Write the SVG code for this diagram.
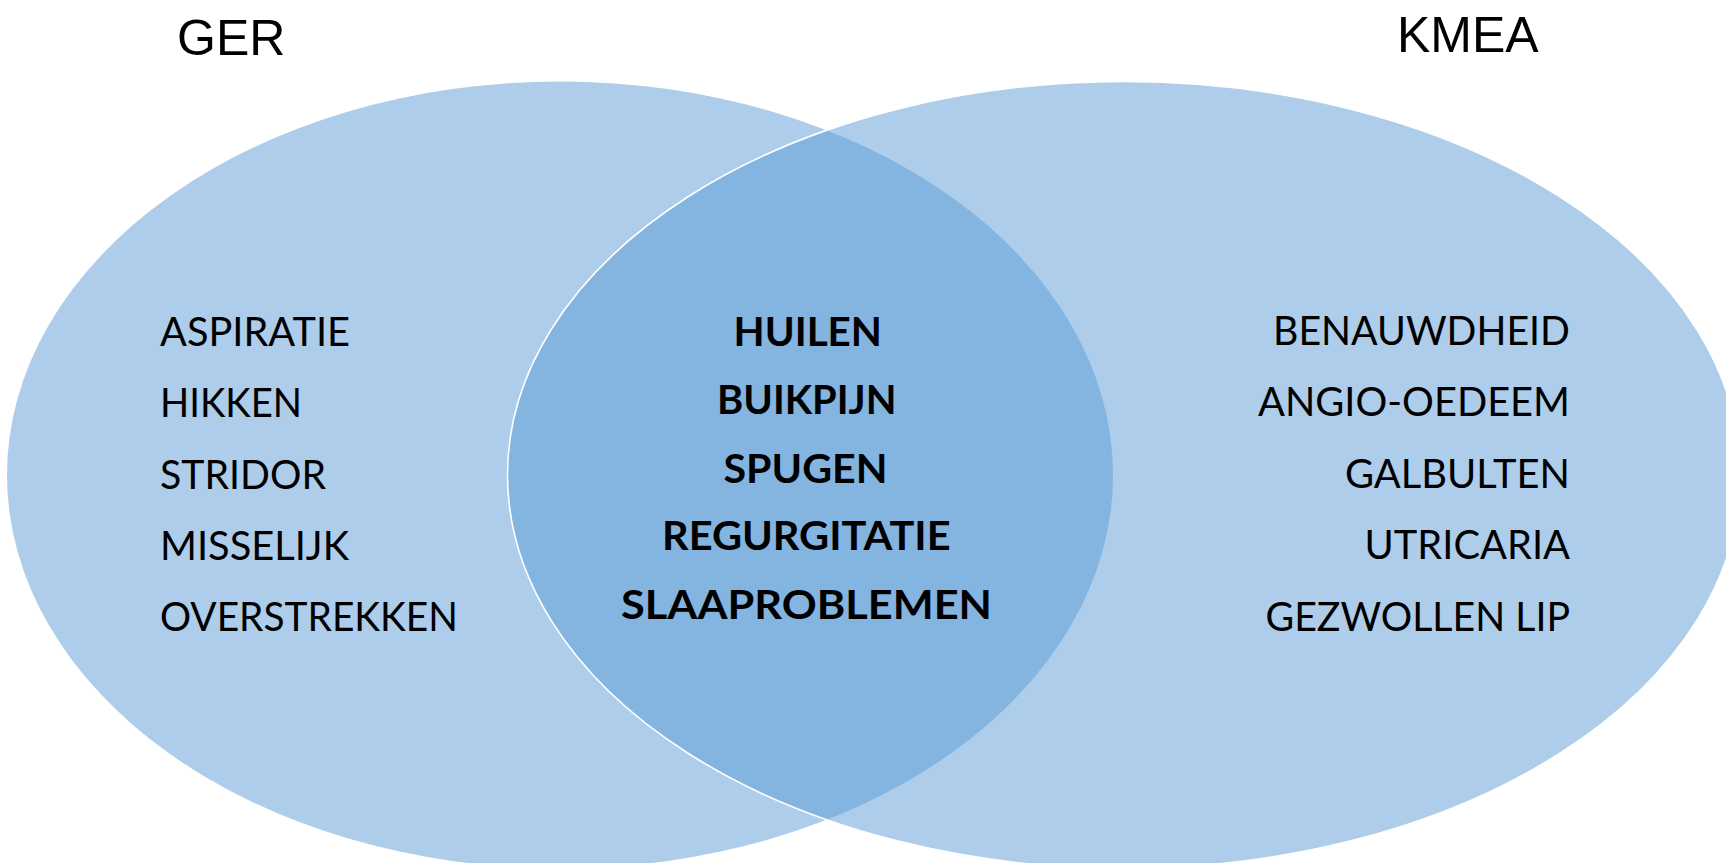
<svg xmlns="http://www.w3.org/2000/svg" width="1726" height="863" viewBox="0 0 1726 863">
<style>
.set{fill:#5B9BD5;fill-opacity:0.5}
.title{font-family:"Liberation Sans",Arial,sans-serif;font-size:50px;fill:#000}
.item{font-family:Lato,"Open Sans",sans-serif;font-size:41px;fill:#000}
.bold{font-weight:bold}
</style>
<rect width="1726" height="863" fill="#FFFFFF"/>
<g id="set-ger">
<ellipse class="set" cx="560" cy="475" rx="553" ry="393.5"/>
</g>
<g id="set-kmea">
<ellipse class="set" cx="1124" cy="475" rx="616.5" ry="393.5" stroke="#FFFFFF" stroke-width="1.6"/>
</g>
<g id="connectors"/>
<g id="label-ger">
<text class="title" x="177" y="55">GER</text>
</g>
<g id="label-kmea">
<text class="title" x="1397" y="52">KMEA</text>
</g>
<g id="ger-items">
<text class="item" x="160" y="346" textLength="190" lengthAdjust="spacingAndGlyphs">ASPIRATIE</text>
<text class="item" x="160" y="417" textLength="142" lengthAdjust="spacingAndGlyphs">HIKKEN</text>
<text class="item" x="160" y="488.5" textLength="166" lengthAdjust="spacingAndGlyphs">STRIDOR</text>
<text class="item" x="160" y="560" textLength="189" lengthAdjust="spacingAndGlyphs">MISSELIJK</text>
<text class="item" x="160" y="631" textLength="298" lengthAdjust="spacingAndGlyphs">OVERSTREKKEN</text>
</g>
<g id="shared-items">
<text class="item bold" x="733.5" y="346" textLength="148.5" lengthAdjust="spacingAndGlyphs">HUILEN</text>
<text class="item bold" x="717" y="413.5" textLength="179.5" lengthAdjust="spacingAndGlyphs">BUIKPIJN</text>
<text class="item bold" x="723.5" y="482.5" textLength="164" lengthAdjust="spacingAndGlyphs">SPUGEN</text>
<text class="item bold" x="662" y="550" textLength="288.5" lengthAdjust="spacingAndGlyphs">REGURGITATIE</text>
<text class="item bold" x="621" y="619" textLength="371" lengthAdjust="spacingAndGlyphs">SLAAPROBLEMEN</text>
</g>
<g id="kmea-items">
<text class="item" x="1273" y="344.5" textLength="297" lengthAdjust="spacingAndGlyphs">BENAUWDHEID</text>
<text class="item" x="1258" y="416" textLength="312" lengthAdjust="spacingAndGlyphs">ANGIO-OEDEEM</text>
<text class="item" x="1345" y="488" textLength="225" lengthAdjust="spacingAndGlyphs">GALBULTEN</text>
<text class="item" x="1364.5" y="559" textLength="205.5" lengthAdjust="spacingAndGlyphs">UTRICARIA</text>
<text class="item" x="1265.5" y="630.5" textLength="304.5" lengthAdjust="spacingAndGlyphs">GEZWOLLEN LIP</text>
</g>
</svg>
